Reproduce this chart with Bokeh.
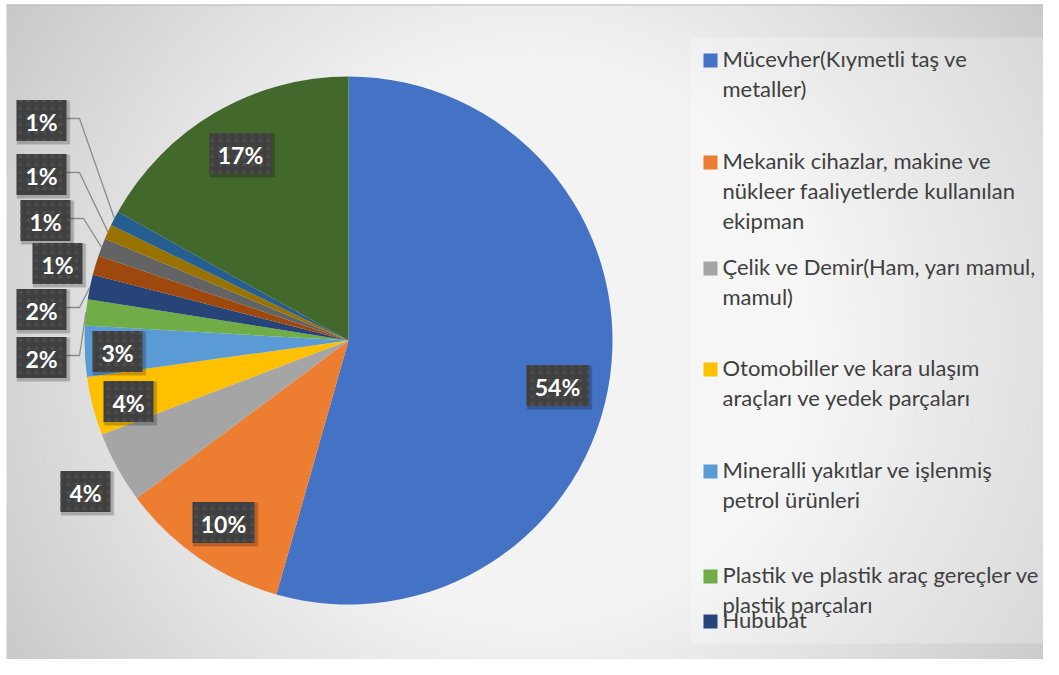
import numpy as np
from bokeh.plotting import figure
from bokeh.models import Range1d, ColumnDataSource
from bokeh.core.properties import value
from bokeh.embed import file_html
from bokeh.resources import INLINE

# ---------------- data ----------------
values = [54.4, 10.4, 4.4, 3.6, 3.1, 1.6, 1.5, 1.2, 1.1, 0.9, 0.9, 16.9]
colors = ["#4472C4", "#ED7D31", "#A5A5A5", "#FFC000", "#5B9BD5", "#70AD47",
          "#264478", "#9E480E", "#636363", "#997300", "#255E91", "#43682B"]
legend_lines = [
    ["Mücevher(Kıymetli taş ve", "metaller)"],
    ["Mekanik cihazlar, makine ve", "nükleer faaliyetlerde kullanılan", "ekipman"],
    ["Çelik ve Demir(Ham, yarı mamul,", "mamul)"],
    ["Otomobiller ve kara ulaşım", "araçları ve yedek parçaları"],
    ["Mineralli yakıtlar ve işlenmiş", "petrol ürünleri"],
    ["Plastik ve plastik araç gereçler ve", "plastik parçaları"],
    ["Hububat"],
]
labels = [f"{int(v + 0.5)}%" for v in values]

# ---------------- layout (image pixel coords, y down) ----------------
W, H = 1043, 659
CX, CY, R = 348, 340, 264
label_pos = [(557, 385), (223, 522), (85, 491), (128, 401), (117, 351), (41, 357),
             (41, 309), (57, 263), (45, 220), (41, 174), (41, 120), (240, 153)]
has_leader = [False, False, False, False, False, True, True, False, True, True, True, False]
legend_item_y = [60, 162, 268, 369, 471, 576, 621]
LINE_H = 30


def Y(y):
    return 675 - y


p = figure(width=W, height=H, output_backend="svg", toolbar_location=None,
           x_range=Range1d(0, W), y_range=Range1d(675 - H, 675),
           min_border=0)
p.axis.visible = False
p.grid.visible = False
p.outline_line_color = None
p.background_fill_color = "white"
p.border_fill_color = "white"

# background radial gradient (chart area starts at x=6, y=4)
GX0, GY0 = 6, 4
gw, gh = W - GX0, H - GY0
xs = np.arange(gw) + GX0 + 0.5
ys_img = 675 - (np.arange(gh) + (675 - H) + 0.5)  # row 0 is bottom
gx, gy = np.meshgrid(xs, ys_img)
d = np.sqrt((gx - 532) ** 2 + (gy - 340) ** 2) / 630.0
t = np.clip((d - 0.45) / 0.55, 0, 1)
c = (243 - 43 * t).astype(np.uint32)
img = (255 << 24) | (c << 16) | (c << 8) | c
p.image_rgba(image=[img.view(np.uint32)], x=GX0, y=675 - H, dw=gw, dh=gh)
p.line([GX0, W], [Y(GY0 + 0.5), Y(GY0 + 0.5)], line_color="#bdbdbd", line_width=1)

# legend background box
p.quad(left=690, right=1052, top=Y(37), bottom=Y(643), fill_color="white",
       fill_alpha=0.25, line_color=None)

# pie
tot = sum(values)
cum = np.concatenate([[0], np.cumsum(values)]) / tot
starts = np.pi / 2 - 2 * np.pi * cum[1:]
ends = np.pi / 2 - 2 * np.pi * cum[:-1]
src = ColumnDataSource(dict(start=starts, end=ends, color=colors))
p.wedge(x=CX, y=Y(CY), radius=R, start_angle="start", end_angle="end",
        fill_color="color", line_color=None, source=src)

# leader lines
for i, (lx, ly) in enumerate(label_pos):
    if not has_leader[i]:
        continue
    mid = (cum[i] + cum[i + 1]) / 2 * 2 * np.pi
    ex = CX + R * np.sin(mid)
    ey = CY - R * np.cos(mid)
    bx = lx + 25
    p.line([bx, bx + 13, ex], [Y(ly - 2), Y(ly - 2), Y(ey)],
           line_color="#8c8c8c", line_width=1.3)

# data labels
bw = [50 + 12 * (len(s) - 2) for s in labels]
lxs = [q[0] for q in label_pos]
lys = [Y(q[1]) for q in label_pos]
for k, a in [(4, 0.06), (3, 0.08), (2, 0.10)]:
    p.rect(x=[x + 2 for x in lxs], y=[y - 2 for y in lys], width=[w + k for w in bw],
           height=41 + k, fill_color="black", fill_alpha=a, line_color=None)
p.rect(x=lxs, y=lys, width=bw, height=41, fill_color="#404040", line_color=None,
       hatch_pattern="dot", hatch_color="#4e4e4e", hatch_scale=8, hatch_weight=1.5)
p.text(x=lxs, y=[y - 1 for y in lys], text=labels, text_font=value("Lato"),
       text_font_style="bold", text_font_size="23px", text_color="white",
       text_align="center", text_baseline="middle")

# legend
for i, lines in enumerate(legend_lines):
    y0 = legend_item_y[i]
    p.rect(x=710, y=Y(y0), width=14, height=14, fill_color=colors[i], line_color=None)
    p.text(x=[722] * len(lines), y=[Y(y0 + LINE_H * j - 2) for j in range(len(lines))],
           text=lines, text_font=value("Lato"), text_font_size="22px",
           text_color="#404040", text_align="left", text_baseline="middle")

open("out.html", "w").write(file_html(p, INLINE))
